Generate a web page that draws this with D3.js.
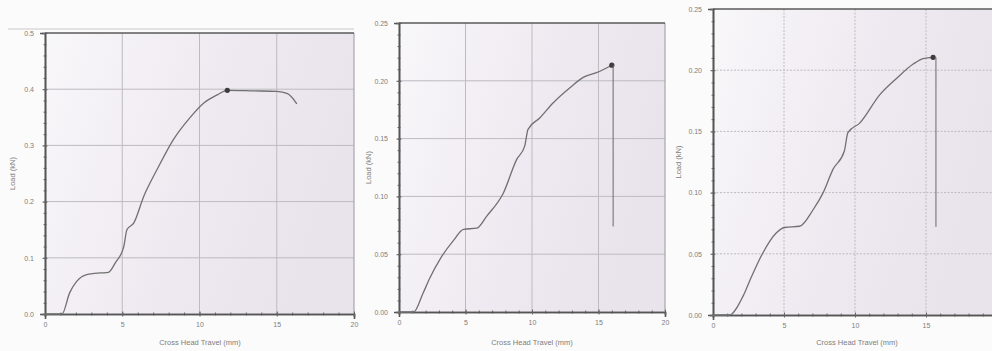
<!DOCTYPE html>
<html>
<head>
<meta charset="utf-8">
<script src="https://cdn.jsdelivr.net/npm/d3@7"></script>
<style>
  html, body { margin: 0; padding: 0; background: #fbfbfb; }
  svg { display: block; }
  text { font-family: "Liberation Sans", Arial, sans-serif; fill: #7e7e7e; }
</style>
</head>
<body>
<svg id="chart" width="992" height="351"></svg>
<script>
// values (mm, kN)
const test1X = [0, 1.1, 1.6, 2.05, 2.7, 3.6, 4.1, 4.55, 5.1, 5.3, 5.75, 6.4, 7.25, 8.3, 9.4, 10.3, 11.15, 11.8, 13.5, 15.0, 15.7, 16.3];
const test1Y = [0, 0, 0.038, 0.058, 0.070, 0.073, 0.074, 0.091, 0.12, 0.15, 0.162, 0.21, 0.257, 0.31, 0.35, 0.376, 0.39, 0.398, 0.397, 0.396, 0.392, 0.374];
const test2X = [0, 1.1, 1.8, 2.3, 3.1, 4.1, 4.85, 5.85, 6.6, 7.85, 8.85, 9.45, 9.7, 10.6, 11.6, 12.85, 13.85, 14.85, 16.0];
const test2Y = [0, 0, 0.016, 0.029, 0.046, 0.062, 0.0715, 0.0725, 0.083, 0.103, 0.132, 0.1435, 0.158, 0.168, 0.181, 0.194, 0.203, 0.207, 0.2135];
const test3X = [0, 1.15, 2.1, 2.7, 3.5, 4.45, 5.05, 6.1, 7.05, 7.75, 8.45, 9.25, 9.5, 10.35, 11.75, 12.9, 14.1, 14.8, 15.5];
const test3Y = [0, 0, 0.015, 0.031, 0.0505, 0.067, 0.0715, 0.0725, 0.086, 0.0998, 0.119, 0.134, 0.149, 0.157, 0.18, 0.193, 0.205, 0.2095, 0.2105];

// vertical drop after break: [x, top, bottom]
const drop2 = [16.1, 0.2135, 0.074];
const drop3 = [15.7, 0.2105, 0.072];

const xTicks = [0, 5, 10, 15, 20];
const yTicks1 = [0, 0.1, 0.2, 0.3, 0.4, 0.5];
const yTicks23 = [0, 0.05, 0.10, 0.15, 0.20, 0.25];

const svg = d3.select('#chart');

const defs = svg.append('defs');
const grad = defs.append('linearGradient').attr('id', 'paper')
    .attr('x1', '0').attr('y1', '0').attr('x2', '1').attr('y2', '0.3');
grad.append('stop').attr('offset', '0%').attr('stop-color', '#f8f7f9');
grad.append('stop').attr('offset', '55%').attr('stop-color', '#efeaf1');
grad.append('stop').attr('offset', '100%').attr('stop-color', '#e9e4ec');

const panels = [
    {box: [45, 354, 33, 314], xs: test1X, ys: test1Y, yMax: 0.5, yTicks: yTicks1, yFmt: d3.format('.1f'), yMinor: 0.02, drop: null, dashed: false,
     yLabelX: 12, xLabelX: 200},
    {box: [399, 665, 23, 312], xs: test2X, ys: test2Y, yMax: 0.25, yTicks: yTicks23, yFmt: d3.format('.2f'), yMinor: 0.01, drop: drop2, dashed: false,
     yLabelX: 368, xLabelX: 532},
    {box: [713, 997, 9, 315], xs: test3X, ys: test3Y, yMax: 0.25, yTicks: yTicks23, yFmt: d3.format('.2f'), yMinor: 0.01, drop: drop3, dashed: true,
     yLabelX: 678, xLabelX: 857}
];

// faint scan frame line over the first chart
svg.append('line').attr('x1', 8).attr('x2', 354).attr('y1', 29).attr('y2', 29)
    .attr('stroke', '#c8c8c8').attr('stroke-width', 1);

panels.forEach(p => {
    const [left, right, top, bottom] = p.box;
    const x = d3.scaleLinear().domain([0, 20]).range([left, right]);
    const y = d3.scaleLinear().domain([0, p.yMax]).range([bottom, top]);
    const g = svg.append('g');

    g.append('rect')
        .attr('x', left).attr('y', top)
        .attr('width', right - left).attr('height', bottom - top)
        .attr('fill', 'url(#paper)');

    // grid
    g.append('g').selectAll('line').data(xTicks.slice(1, -1)).join('line')
        .attr('x1', d => x(d)).attr('x2', d => x(d))
        .attr('y1', top).attr('y2', bottom)
        .attr('stroke', '#bdbac0').attr('stroke-width', 1)
        .attr('stroke-dasharray', p.dashed ? '2,1.5' : null);
    g.append('g').selectAll('line').data(p.yTicks.slice(1, -1)).join('line')
        .attr('x1', left).attr('x2', right)
        .attr('y1', d => y(d)).attr('y2', d => y(d))
        .attr('stroke', '#bdbac0').attr('stroke-width', 1)
        .attr('stroke-dasharray', p.dashed ? '2,1.5' : null);

    // right border
    g.append('line').attr('x1', right).attr('x2', right).attr('y1', top).attr('y2', bottom)
        .attr('stroke', '#a9a6ad').attr('stroke-width', 1.2);

    // axes with minor ticks
    const xAxis = d3.axisBottom(x).tickValues(d3.range(0, 20.5, 1))
        .tickSize(3).tickFormat('');
    const xAxisG = g.append('g').attr('transform', `translate(0,${bottom})`).call(xAxis);
    xAxisG.selectAll('.tick line').attr('transform', 'translate(0,-1.5)');
    const shownX = xTicks.filter(d => x(d) < 985);
    const xMajor = d3.axisBottom(x).tickValues(shownX).tickSize(5).tickPadding(3)
        .tickFormat(d3.format('d'));
    const xMajorG = g.append('g').attr('transform', `translate(0,${bottom})`).call(xMajor);
    xMajorG.selectAll('.tick line').attr('transform', 'translate(0,-2.5)');
    xMajorG.selectAll('.tick text').attr('font-size', 7);

    const yAxis = d3.axisLeft(y).tickValues(d3.range(0, p.yMax + 1e-9, p.yMinor))
        .tickSize(3).tickFormat('');
    const yAxisG = g.append('g').attr('transform', `translate(${left},0)`).call(yAxis);
    yAxisG.selectAll('.tick line').attr('transform', 'translate(1.5,0)');
    const yMajor = d3.axisLeft(y).tickValues(p.yTicks).tickSize(5).tickPadding(6)
        .tickFormat(p.yFmt);
    const yMajorG = g.append('g').attr('transform', `translate(${left},0)`).call(yMajor);
    yMajorG.selectAll('.tick line').attr('transform', 'translate(2.5,0)');
    yMajorG.selectAll('.tick text').attr('font-size', 7);

    g.selectAll('.domain').attr('stroke', '#555').attr('stroke-width', 1.6);
    g.selectAll('.tick line').attr('stroke', '#666').attr('stroke-width', 1);
    g.selectAll('.tick text').attr('fill', '#7e7e7e');

    // top border
    g.append('line').attr('x1', left).attr('x2', right).attr('y1', top).attr('y2', top)
        .attr('stroke', '#5a5a5a').attr('stroke-width', 1.6);

    // curve
    const pts = p.xs.map((d, i) => [d, p.ys[i]]);
    const line = d3.line().x(d => x(d[0])).y(d => y(d[1])).curve(d3.curveMonotoneX);
    g.append('path').datum(pts)
        .attr('d', line)
        .attr('fill', 'none')
        .attr('stroke', '#707070')
        .attr('stroke-width', 1.3);

    // break point
    let peak = 0;
    p.ys.forEach((v, i) => { if (v > p.ys[peak]) peak = i; });
    g.append('circle')
        .attr('cx', x(p.xs[peak])).attr('cy', y(p.ys[peak]))
        .attr('r', 2.6).attr('fill', '#3c3c3c');

    if (p.drop) {
        g.append('line')
            .attr('x1', x(p.drop[0])).attr('x2', x(p.drop[0]))
            .attr('y1', y(p.drop[1])).attr('y2', y(p.drop[2]))
            .attr('stroke', '#6a6a6a').attr('stroke-width', 1);
    }

    // labels
    g.append('text')
        .attr('x', p.xLabelX)
        .attr('y', 345)
        .attr('text-anchor', 'middle')
        .attr('font-size', 7.5)
        .text('Cross Head Travel (mm)');
    g.append('text')
        .attr('transform', `translate(${p.yLabelX},${(top + bottom) / 2}) rotate(-90)`)
        .attr('text-anchor', 'middle')
        .attr('dy', '0.35em')
        .attr('font-size', 7.5)
        .text('Load (kN)');
});
</script>
</body>
</html>
